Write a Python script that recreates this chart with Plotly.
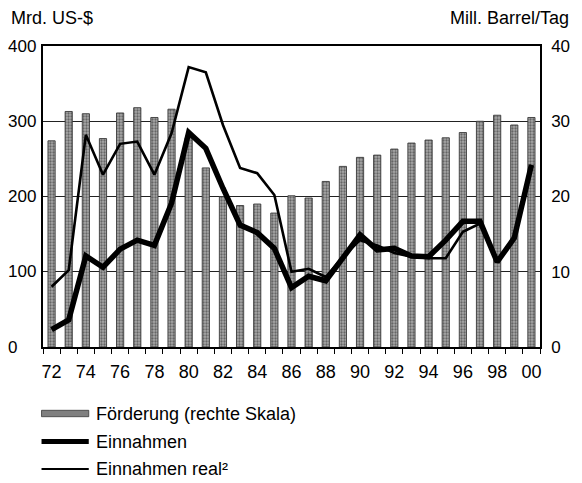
import plotly.graph_objects as go

# ---- data -------------------------------------------------------------
years = list(range(1972, 2001))
year_labels = [f"{y % 100:02d}" for y in years]
tick_text = [lab if y % 2 == 0 else "" for y, lab in zip(years, year_labels)]

foerderung = [27.4, 31.3, 31.0, 27.7, 31.1, 31.8, 30.5, 31.6, 27.8, 23.8,
              20.0, 18.8, 19.0, 17.8, 20.1, 19.8, 22.0, 24.0, 25.2, 25.5,
              26.3, 27.1, 27.5, 27.8, 28.5, 30.0, 30.8, 29.5, 30.5]
einnahmen = [23, 36, 121, 106, 130, 142, 135, 191, 285, 264,
             211, 162, 152, 131, 79, 94, 88, 118, 149, 129,
             131, 121, 120, 142, 167, 167, 113, 145, 242]
einnahmen_real = [80, 102, 282, 229, 270, 273, 229, 284, 372, 365,
                  295, 238, 231, 202, 100, 104, 93, 120, 142, 135,
                  125, 120, 118, 118, 153, 164, 113, 145, 242]

left_ticks = [0, 100, 200, 300, 400]
right_ticks = [0, 10, 20, 30, 40]

legend_names = ["Förderung (rechte Skala)", "Einnahmen", "Einnahmen real²"]

# ---- layout geometry (pixels) ----------------------------------------
W, H = 582, 483
L, R, T, B = 43, 34, 46, 136
PW, PH = W - L - R, H - T - B
FONT = "Liberation Sans, Arial, Helvetica, sans-serif"


def px(x):
    return (x - L) / PW


def py(y):
    return (T + PH - y) / PH


fig = go.Figure()

fig.add_trace(go.Bar(
    x=year_labels, y=foerderung, name=legend_names[0],
    yaxis="y", width=0.42,
    marker=dict(color="#808080",
                line=dict(color="#3a3a3a", width=0.9),
                pattern=dict(shape=".", fgcolor="#222222", bgcolor="#a8a8a8",
                             size=3, solidity=0.45)),
    showlegend=False,
))
fig.add_trace(go.Scatter(
    x=year_labels, y=einnahmen_real, name=legend_names[2], yaxis="y2",
    mode="lines", line=dict(color="black", width=2.6), showlegend=False,
))
fig.add_trace(go.Scatter(
    x=year_labels, y=einnahmen, name=legend_names[1], yaxis="y2",
    mode="lines", line=dict(color="black", width=5.5), showlegend=False,
))

annotations = []
# left tick labels (left-aligned as in the reference)
for v in left_ticks:
    annotations.append(dict(
        x=px(5), xref="paper", xanchor="left",
        y=v, yref="y2", yanchor="middle",
        text=str(v), showarrow=False,
        font=dict(size=17, color="black", family=FONT)))

# axis titles
annotations.append(dict(x=px(8), xref="paper", xanchor="left",
                        y=py(18.5), yref="paper", yanchor="middle",
                        text="Mrd. US-$", showarrow=False,
                        font=dict(size=18, color="black", family=FONT)))
annotations.append(dict(x=px(580), xref="paper", xanchor="right",
                        y=py(18.5), yref="paper", yanchor="middle",
                        text="Mill. Barrel/Tag", showarrow=False,
                        font=dict(size=18, color="black", family=FONT)))

# manual legend
shapes = []
sx0, sx1 = 41.5, 89.5
rows = [413.5, 441.5, 469]
shapes.append(dict(type="rect", xref="paper", yref="paper",
                   x0=px(sx0), x1=px(sx1), y0=py(rows[0] - 3.2), y1=py(rows[0] + 3.2),
                   fillcolor="#808080", line=dict(color="#3a3a3a", width=0.8)))
shapes.append(dict(type="line", xref="paper", yref="paper",
                   x0=px(sx0), x1=px(sx1), y0=py(rows[1]), y1=py(rows[1]),
                   line=dict(color="black", width=5)))
shapes.append(dict(type="line", xref="paper", yref="paper",
                   x0=px(sx0), x1=px(sx1), y0=py(rows[2]), y1=py(rows[2]),
                   line=dict(color="black", width=2)))
for name, ry in zip(legend_names, rows):
    annotations.append(dict(x=px(95), xref="paper", xanchor="left",
                            y=py(ry), yref="paper", yanchor="middle",
                            text=name, showarrow=False,
                            font=dict(size=18, color="black", family=FONT)))

fig.update_layout(
    width=W, height=H,
    margin=dict(l=L, r=R, t=T, b=B, pad=0),
    paper_bgcolor="white", plot_bgcolor="white",
    font=dict(family=FONT, size=17, color="black"),
    bargap=0.58,
    xaxis=dict(
        type="category", categoryorder="array", categoryarray=year_labels,
        tickson="boundaries", tickvals=year_labels, ticktext=tick_text,
        tickangle=0,
        ticks="outside", ticklen=5, tickwidth=1.2, tickcolor="black",
        showline=True, linecolor="black", linewidth=1.5, mirror=True,
        showgrid=False, tickfont=dict(size=18), ticklabelstandoff=8,
        range=[-0.5, len(years) - 0.5],
    ),
    yaxis=dict(
        side="right", range=[0, 40], tickvals=right_ticks,
        showgrid=True, gridcolor="#222222", gridwidth=1.4,
        showline=True, linecolor="black", linewidth=1.5, mirror=True,
        ticks="", zeroline=False, tickfont=dict(size=17),
        ticklabelstandoff=6,
    ),
    yaxis2=dict(
        overlaying="y", side="left", range=[0, 400], tickvals=left_ticks,
        showgrid=False, showticklabels=False, zeroline=False, ticks="",
        showline=False,
    ),
    annotations=annotations,
    shapes=shapes,
    showlegend=False,
)

fig.write_html("out.html",
               config={"displayModeBar": False},
               post_script="document.body.style.margin='0';document.body.style.overflow='hidden';")
